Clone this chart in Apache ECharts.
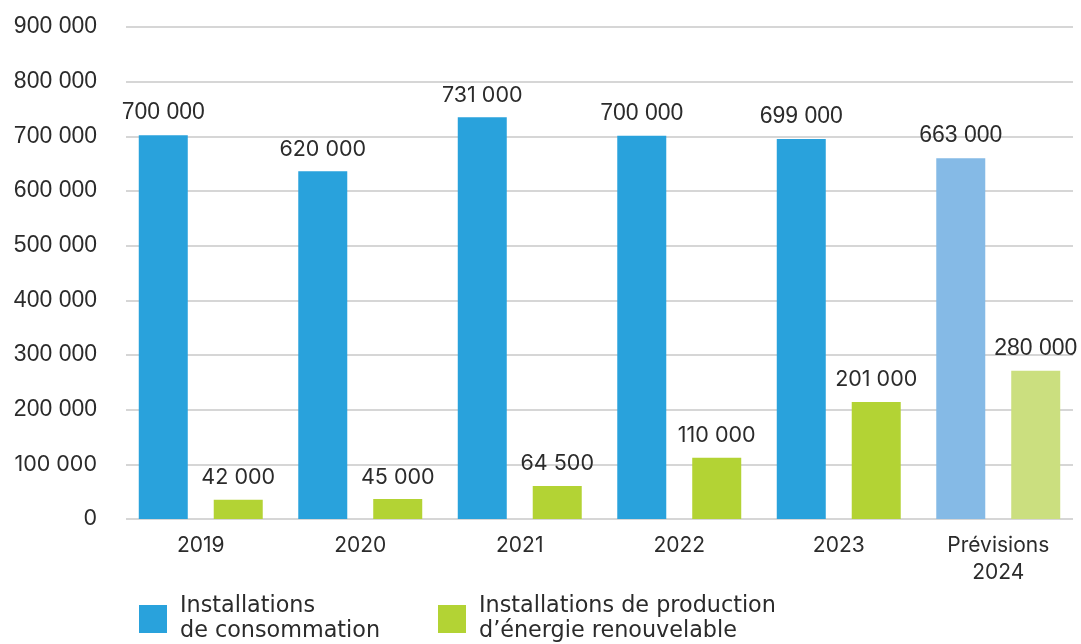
<!DOCTYPE html>
<html>
<head>
<meta charset="utf-8">
<script src="https://cdn.jsdelivr.net/npm/echarts@6/dist/echarts.min.js"></script>
<style>
html,body{margin:0;padding:0;background:#fff;}
#chart{width:1081px;height:644px;}
</style>
</head>
<body>
<div id="chart"></div>
<script>
// ---- data ----
const categories = ['2019', '2020', '2021', '2022', '2023', 'Prévisions\n2024'];
const seriesNames = ['Installations\nde consommation', 'Installations de production\nd’énergie renouvelable'];
const consoValues = [702000, 636000, 735000, 701000, 695000, 660000];
const enrValues = [35000, 36500, 60500, 112000, 214000, 271000];
const consoLabels = [700000, 620000, 731000, 700000, 699000, 663000];
const enrLabels = [42000, 45000, 64500, 110000, 201000, 280000];
const yTicks = [0, 100000, 200000, 300000, 400000, 500000, 600000, 700000, 800000, 900000];

// ---- styles ----
const TEXT = '#2b2b2b';
const ARIAL = 'Liberation Sans';
const GEO = 'Inter';
const LEG = 'DejaVu Sans';
const fmt = v => String(v).replace(/\B(?=(\d{3})+(?!\d))/g, ' ');
const rich = {
  a: {fontFamily: ARIAL, fontSize: 23, color: TEXT},
  p: {fontFamily: GEO, fontSize: 21.5, color: TEXT}
};
const consoArialIdx = [0, 3, 4, 5];
const enrArialIdx = [5];

const blue = '#29a2dc', green = '#b3d334', lightBlue = '#85bae6', lightGreen = '#cbdf7f';

function items(values, base, last) {
  return values.map((v, i) => ({
    value: v,
    itemStyle: {color: i === values.length - 1 ? last : base}
  }));
}

const yMin = yTicks[0], yMax = yTicks[yTicks.length - 1], yStep = yTicks[1] - yTicks[0];
const legendText = {fontFamily: LEG, fontSize: 22.3, color: TEXT, lineHeight: 25, padding: [0, 0, 0, 8]};

const chart = echarts.init(document.getElementById('chart'), null, {renderer: 'canvas'});
chart.setOption({
  backgroundColor: '#fff',
  animation: false,
  grid: [
    {left: 121, right: 3, top: 27, bottom: 125},
    {left: 126, right: 8, top: 27, bottom: 125}
  ],
  xAxis: [
    {
      type: 'category', gridIndex: 0, data: categories,
      axisLine: {show: false}, axisTick: {show: false},
      axisLabel: {margin: 13, fontFamily: GEO, fontSize: 21, color: TEXT, lineHeight: 27, interval: 0}
    },
    {type: 'category', gridIndex: 1, data: categories, show: false}
  ],
  yAxis: [
    {type: 'value', gridIndex: 0, min: yMin, max: yMax, interval: yStep, show: false, splitLine: {show: false}},
    {
      type: 'value', gridIndex: 1, min: yMin, max: yMax, interval: yStep,
      axisLine: {show: false}, axisTick: {show: false},
      axisLabel: {
        margin: 29,
        formatter: v => (v <= 100000 ? '{p|' : '{a|') + fmt(v) + '}',
        rich: rich
      },
      splitLine: {lineStyle: {color: '#d6d6d6', width: 2}}
    }
  ],
  legend: [
    {
      data: [seriesNames[0]], left: 139, top: 594, padding: 0,
      icon: 'rect', itemWidth: 28, itemHeight: 28, textStyle: legendText
    },
    {
      data: [seriesNames[1]], left: 438, top: 594, padding: 0,
      icon: 'rect', itemWidth: 28, itemHeight: 28, textStyle: legendText
    }
  ],
  series: [
    {
      name: seriesNames[0], type: 'bar', xAxisIndex: 0, yAxisIndex: 0,
      barWidth: 49, barGap: '53%', itemStyle: {color: blue},
      data: items(consoValues, blue, lightBlue),
      label: {
        show: true, position: 'top', distance: 11,
        formatter: p => (consoArialIdx.includes(p.dataIndex) ? '{a|' : '{p|') + fmt(consoLabels[p.dataIndex]) + '}',
        rich: rich
      }
    },
    {
      name: seriesNames[1], type: 'bar', xAxisIndex: 0, yAxisIndex: 0,
      barWidth: 49, barGap: '53%', itemStyle: {color: green},
      data: items(enrValues, green, lightGreen),
      label: {
        show: true, position: 'top', distance: 11,
        formatter: p => (enrArialIdx.includes(p.dataIndex) ? '{a|' : '{p|') + fmt(enrLabels[p.dataIndex]) + '}',
        rich: rich
      }
    }
  ]
});
</script>
</body>
</html>
